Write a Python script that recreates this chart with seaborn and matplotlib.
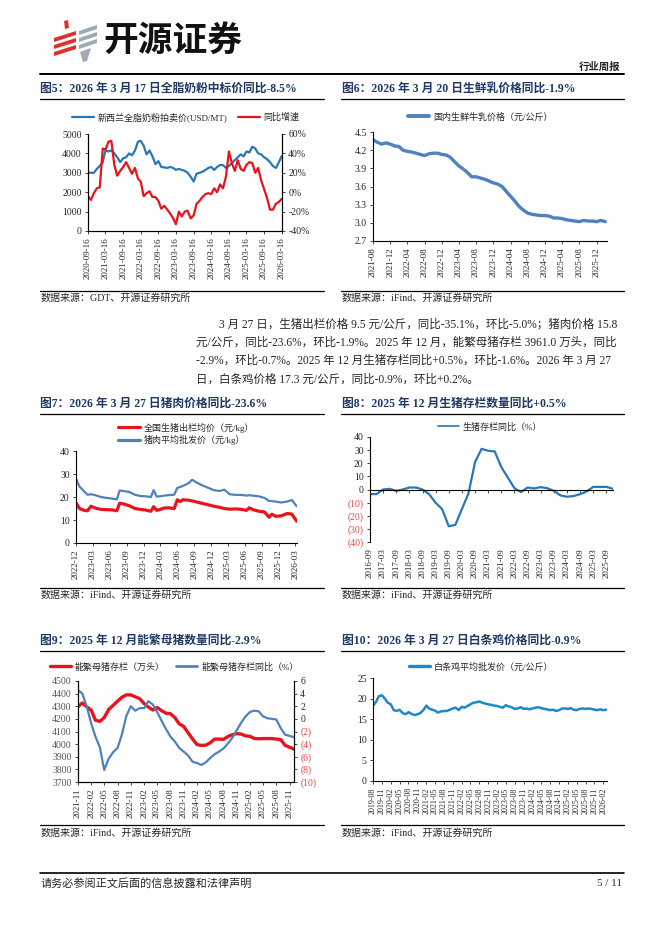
import matplotlib
matplotlib.use('Agg')
import matplotlib.pyplot as plt
from matplotlib.lines import Line2D
from matplotlib.patches import Polygon
import pandas as pd
import seaborn as sns

# ---------------- 数据 ----------------
# 图5 新西兰全脂奶粉拍卖价 / 同比（月度，每月16日）
gdt_start = '2020-09-01'
gdt_price = [3000, 3000, 3000, 3200, 3350, 3550, 4150, 4100, 4150, 4000,
             3800, 3550, 3750, 3800, 4000, 3900, 4150, 4600, 4650, 4400,
             3950, 4150, 3850, 3450, 3600, 3300, 3280, 3250, 3300, 3250,
             3150, 3200, 3150, 3100, 3000, 2800, 2550, 2950, 3000, 3050,
             3150, 3250, 3300, 3150, 3300, 3400, 3400, 3250, 3350, 3500,
             3650, 3800, 3950, 3850, 4100, 4050, 4350, 4250, 4000, 3950,
             3800, 3700, 3550, 3350, 3250, 3550, 3850]
gdt_yoy = [-4, -8, -1, 4, 5, 45, 44, 52, 53, 28,
           17, 22, 26, 31, 25, 19, 25, 14, 11, -4,
           -1, 1, -5, -5, -9, -17, -14, -18, -22, -27,
           -33, -20, -25, -20, -19, -27, -24, -12, -9, -5,
           -2, -1, -2, 4, 0, 8, 4, 16, 42, 30,
           22, 33, 24, 22, 28, 31, 30, 20, 25, 12,
           3, -6, -18, -18, -12, -10, -7]
gdt_ticks = ['2020-09-16', '2021-03-16', '2021-09-16', '2022-03-16', '2022-09-16', '2023-03-16',
             '2023-09-16', '2024-03-16', '2024-09-16', '2025-03-16', '2025-09-16', '2026-03-16']

# 图6 国内生鲜乳价格（元/公斤）
milk_start = '2021-08-01'
milk_price = [4.37, 4.33, 4.30, 4.32, 4.30, 4.27, 4.26, 4.20, 4.18, 4.17,
              4.15, 4.13, 4.11, 4.14, 4.15, 4.15, 4.13, 4.12, 4.08, 4.01,
              3.94, 3.89, 3.83, 3.76, 3.76, 3.74, 3.72, 3.69, 3.66, 3.64,
              3.60, 3.52, 3.44, 3.36, 3.27, 3.21, 3.16, 3.14, 3.13, 3.12,
              3.12, 3.11, 3.08, 3.08, 3.07, 3.05, 3.04, 3.03, 3.02, 3.04,
              3.03, 3.03, 3.02, 3.04, 3.02]
milk_ticks = ['2021-08', '2021-12', '2022-04', '2022-08', '2022-12', '2023-04', '2023-08',
              '2023-12', '2024-04', '2024-08', '2024-12', '2025-04', '2025-08', '2025-12']

# 图7 生猪出栏均价 / 猪肉平均批发价（元/kg）
pig_dates = ['2022-12-01', '2022-12-20', '2023-01-10', '2023-02-01', '2023-02-20', '2023-03-15',
             '2023-04-15', '2023-05-15', '2023-06-15', '2023-07-10', '2023-07-25', '2023-08-15',
             '2023-09-15', '2023-10-15', '2023-11-15', '2023-12-15', '2024-01-10', '2024-01-25',
             '2024-02-10', '2024-03-01', '2024-03-20', '2024-04-15', '2024-05-15', '2024-06-01',
             '2024-06-15', '2024-07-01', '2024-08-01', '2024-08-20', '2024-09-15', '2024-10-15',
             '2024-11-15', '2024-12-15', '2025-01-15', '2025-02-10', '2025-03-10', '2025-04-15',
             '2025-05-15', '2025-06-10', '2025-06-25', '2025-07-15', '2025-08-15', '2025-09-15',
             '2025-10-10', '2025-10-25', '2025-11-15', '2025-12-15', '2026-01-15', '2026-02-10',
             '2026-03-08']
pork_price = [28.0, 24.5, 22.8, 21.0, 21.2, 20.8, 20.0, 19.6, 19.3, 19.0, 22.8, 22.6,
              22.2, 21.0, 20.4, 20.3, 20.0, 23.0, 20.2, 20.3, 20.6, 20.8, 21.0, 24.0,
              24.3, 24.8, 26.0, 27.5, 26.2, 25.0, 24.0, 23.0, 22.6, 23.2, 21.2, 20.9,
              20.9, 20.6, 20.8, 20.6, 20.3, 19.6, 18.3, 18.2, 18.0, 17.6, 18.0, 18.7,
              16.0]
hog_price = [17.5, 15.0, 14.3, 14.0, 16.0, 15.2, 14.6, 14.5, 14.4, 14.0, 17.3, 17.0,
             16.2, 15.0, 14.6, 14.3, 13.8, 15.8, 14.2, 14.6, 15.2, 15.3, 15.0, 18.8,
             18.0, 18.8, 18.6, 18.3, 17.8, 17.2, 16.6, 16.0, 15.5, 15.0, 14.7, 14.8,
             14.6, 14.2, 15.3, 14.5, 13.8, 13.5, 11.2, 12.5, 11.6, 11.8, 12.8, 12.6,
             9.5]
pig_ticks = ['2022-12', '2023-03', '2023-06', '2023-09', '2023-12', '2024-03', '2024-06',
             '2024-09', '2024-12', '2025-03', '2025-06', '2025-09', '2025-12', '2026-03']

# 图8 生猪存栏同比（%，季度）
stock_start = '2016-09-01'
stock_yoy = [-3.5, -3.5, 0.0, 0.5, -1.0, 0.0, 1.5, 1.5, 0.0, -3.5,
             -10.0, -15.0, -28.0, -27.0, -15.0, -3.0, 21.0, 31.0, 29.5, 29.0,
             17.0, 9.0, 1.0, -2.0, 1.5, 0.8, 1.8, 1.0, -1.0, -4.5,
             -5.5, -5.0, -3.5, -1.5, 2.0, 2.0, 2.0, 0.5]
stock_ticks = [f'{y}-{m}' for y in range(2016, 2026) for m in ('03', '09')][1:]

# 图9 能繁母猪存栏（万头）/ 同比（%）
sow_start = '2021-11-01'
sow_stock = [4297, 4326, 4295, 4268, 4190, 4180, 4210, 4275, 4307, 4340,
             4372, 4390, 4390, 4375, 4360, 4320, 4294, 4270, 4290, 4265,
             4245, 4241, 4210, 4160, 4140, 4090, 4040, 3996, 3990, 3992,
             4010, 4040, 4040, 4038, 4060, 4075, 4083, 4080, 4065, 4062,
             4045, 4042, 4044, 4044, 4044, 4040, 4035, 3990, 3975, 3961]
sow_yoy = [4.6, 4.0, 1.9, -0.8, -2.8, -4.5, -8.1, -6.3, -5.3, -4.6,
           -2.4, 0.5, 2.0, 1.3, 1.7, 1.7, 2.8, 2.3, 1.1, -0.3,
           -1.6, -2.8, -3.6, -4.6, -5.2, -5.8, -6.8, -7.0, -7.3, -6.9,
           -6.2, -5.6, -5.2, -4.7, -3.9, -3.0, -1.8, -0.6, 0.4, 1.1,
           1.3, 1.2, 0.4, 0.1, 0.0, -0.1, -1.5, -2.5, -2.7, -2.9]
sow_ticks = list(pd.date_range('2021-11-01', '2025-11-01', freq='3MS').strftime('%Y-%m'))

# 图10 白条鸡平均批发价（元/公斤）
chick_start = '2019-08-01'
chick_price = [18.3, 19.2, 20.6, 20.8, 20.0, 19.0, 18.6, 17.2, 17.0, 17.3,
               16.5, 16.2, 16.7, 16.3, 16.0, 16.2, 16.5, 17.2, 18.3, 17.6,
               17.3, 17.1, 16.6, 16.9, 17.0, 17.0, 17.3, 17.6, 17.8, 17.2,
               18.0, 17.8, 18.2, 18.6, 19.0, 19.1, 19.3, 19.0, 18.8, 18.6,
               18.5, 18.3, 18.2, 18.0, 17.8, 18.4, 18.1, 17.9, 17.5, 17.6,
               17.9, 17.5, 17.6, 17.4, 17.6, 17.8, 17.9, 17.7, 17.5, 17.4,
               17.2, 17.3, 17.0, 17.2, 17.6, 17.6, 17.5, 17.7, 17.3, 17.2,
               17.5, 17.6, 17.5, 17.6, 17.5, 17.3, 17.2, 17.4, 17.2, 17.3]
chick_ticks = list(pd.date_range('2019-08-01', '2026-02-01', freq='3MS').strftime('%Y-%m'))

# ---------------- 样式 ----------------
sns.set_style('ticks')
plt.rcParams['font.family'] = ['Liberation Serif', 'Noto Sans CJK SC']
plt.rcParams['axes.unicode_minus'] = False

NAVY = '#1F3864'
BLUE = '#2878B5'
RED = '#E8131B'
STEEL = '#4F81BD'
NEG = '#E04848'

W, H = 662, 936
fig = plt.figure(figsize=(W / 100, H / 100), dpi=100)


def add_ax(x0, y0, x1, y1):
    return fig.add_axes([x0 / W, 1 - y1 / H, (x1 - x0) / W, (y1 - y0) / H])


def text(x, y, s, **kw):
    kw.setdefault('va', 'center')
    fig.text(x / W, 1 - y / H, s, **kw)


def hline(y, x0, x1, lw=0.9):
    fig.add_artist(Line2D([x0 / W, x1 / W], [1 - y / H] * 2, color='black', lw=lw))


def style_ax(ax, right=False):
    ax.spines['top'].set_visible(False)
    ax.spines['right'].set_visible(right)
    for s in ax.spines.values():
        s.set_linewidth(0.8)
        s.set_color('black')
    ax.tick_params(direction='out', length=2.5, width=0.6, labelsize=7, pad=2)
    ax.set_xlabel('')
    ax.set_ylabel('')


def date_ticks(ax, ticks, fs=6.5):
    ax.set_xticks(pd.to_datetime(ticks))
    ax.set_xticklabels(ticks, rotation=90, fontsize=fs)


def legend(ax, handles, cx, cy, ncol=1, fs=6.5, hl=2.4):
    ax.legend(handles=handles, loc='center', bbox_to_anchor=(cx / W, 1 - cy / H),
              bbox_transform=fig.transFigure, ncol=ncol, frameon=False, fontsize=fs,
              handlelength=hl, columnspacing=1.2, handletextpad=0.4,
              borderaxespad=0, borderpad=0, labelspacing=0.3)


def red_negatives(ax):
    for t in ax.get_yticklabels():
        if t.get_text().startswith('('):
            t.set_color(NEG)


def paren(v):
    return f'({abs(v)})' if v < 0 else f'{v}'


# ---------------- 页眉 ----------------
red_bars = [[(64, 21), (68, 20), (69, 28), (65, 29)],
            [(54, 38), (76, 31), (76, 35), (54, 42)],
            [(54, 45), (76, 38), (76, 42), (54, 49)],
            [(54, 52), (76, 45), (76, 49), (54, 56)]]
gray_bars = [[(79, 31), (97, 25), (97, 29), (79, 35)],
             [(79, 38), (97, 32), (97, 36), (79, 42)],
             [(79, 45), (97, 39), (97, 43), (79, 49)],
             [(80, 52), (91, 48), (87, 61), (83, 62)]]
for pts, c in [(p, '#D9342B') for p in red_bars] + [(p, '#9DAAB5') for p in gray_bars]:
    fig.add_artist(Polygon([(x / W, 1 - y / H) for x, y in pts], closed=True,
                           transform=fig.transFigure, color=c, lw=0))
text(103, 40, '开源证券', fontsize=25, fontweight='bold', family='Noto Sans CJK SC', color='#111111')
text(620, 67, '行业周报', fontsize=7.5, fontweight='bold', ha='right')
hline(74, 40, 624, lw=1.4)

# 标题
text(40, 89, '图5：2026 年 3 月 17 日全脂奶粉中标价同比-8.5%', fontsize=8.5, fontweight='bold', color=NAVY)
text(342, 89, '图6：2026 年 3 月 20 日生鲜乳价格同比-1.9%', fontsize=8.5, fontweight='bold', color=NAVY)
text(40, 404, '图7：2026 年 3 月 27 日猪肉价格同比-23.6%', fontsize=8.5, fontweight='bold', color=NAVY)
text(342, 404, '图8：2025 年 12 月生猪存栏数量同比+0.5%', fontsize=8.5, fontweight='bold', color=NAVY)
text(40, 641, '图9：2025 年 12 月能繁母猪数量同比-2.9%', fontsize=8.5, fontweight='bold', color=NAVY)
text(342, 641, '图10：2026 年 3 月 27 日白条鸡价格同比-0.9%', fontsize=8.5, fontweight='bold', color=NAVY)
for y in (99, 414, 651, 291, 588, 825):
    hline(y, 40, 324)
    hline(y, 341, 624)
for y, src in [(298, ('GDT', 'iFind')), (595, ('iFind', 'iFind')), (833, ('iFind', 'iFind'))]:
    text(41, y, f'数据来源：{src[0]}、开源证券研究所', fontsize=7.2)
    text(342, y, f'数据来源：{src[1]}、开源证券研究所', fontsize=7.2)

# 正文
para = ['3 月 27 日，生猪出栏价格 9.5 元/公斤，同比-35.1%，环比-5.0%；猪肉价格 15.8',
        '元/公斤，同比-23.6%，环比-1.9%。2025 年 12 月，能繁母猪存栏 3961.0 万头，同比',
        '-2.9%，环比-0.7%。2025 年 12 月生猪存栏同比+0.5%，环比-1.6%。2026 年 3 月 27',
        '日，白条鸡价格 17.3 元/公斤，同比-0.9%，环比+0.2%。']
for i, line in enumerate(para):
    text(219 if i == 0 else 196, 324 + i * 18.5, line, fontsize=8.3)

# 页脚
hline(873, 40, 624, lw=1.2)
text(41, 883, '请务必参阅正文后面的信息披露和法律声明', fontsize=8)
text(622, 883, '5 / 11', fontsize=8, ha='right')

# ---------------- 图5 ----------------
d5 = pd.date_range(gdt_start, periods=len(gdt_price), freq='MS') + pd.Timedelta(days=15)
ax5 = add_ax(88, 134, 282, 231)
sns.lineplot(x=d5, y=gdt_price, ax=ax5, color=BLUE, lw=1.6)
ax5r = ax5.twinx()
sns.lineplot(x=d5, y=gdt_yoy, ax=ax5r, color=RED, lw=1.6)
style_ax(ax5, right=True)
style_ax(ax5r, right=True)
ax5.set_ylim(0, 5000)
ax5.set_yticks(range(0, 5001, 1000))
ax5r.set_ylim(-40, 60)
ax5r.set_yticks(range(-40, 61, 20))
ax5r.set_yticklabels([f'{v}%' for v in range(-40, 61, 20)])
ax5.set_xlim(pd.Timestamp('2020-09-16'), pd.Timestamp('2026-03-20'))
date_ticks(ax5, gdt_ticks)
legend(ax5r, [Line2D([], [], color=BLUE, lw=1.6), Line2D([], [], color=RED, lw=1.6)],
       186, 117, ncol=2)
ax5r.get_legend().get_texts()[0].set_text('新西兰全脂奶粉拍卖价(USD/MT)')
ax5r.get_legend().get_texts()[1].set_text('同比增速')

# ---------------- 图6 ----------------
d6 = pd.date_range(milk_start, periods=len(milk_price), freq='MS')
ax6 = add_ax(373, 132, 607, 241)
sns.lineplot(x=d6, y=milk_price, ax=ax6, color=STEEL, lw=2.4)
style_ax(ax6)
ax6.set_ylim(2.7, 4.5)
ax6.set_yticks([2.7, 3.0, 3.3, 3.6, 3.9, 4.2, 4.5])
ax6.set_yticklabels(['2.7', '3.0', '3.3', '3.6', '3.9', '4.2', '4.5'])
ax6.set_xlim(pd.Timestamp('2021-08-01'), pd.Timestamp('2026-02-13'))
date_ticks(ax6, milk_ticks)
legend(ax6, [Line2D([], [], color=STEEL, lw=2.8)], 480, 117)
ax6.get_legend().get_texts()[0].set_text('国内生鲜牛乳价格（元/公斤）')

# ---------------- 图7 ----------------
d7 = pd.to_datetime(pig_dates)
ax7 = add_ax(76, 451, 297, 543)
sns.lineplot(x=d7, y=pork_price, ax=ax7, color=STEEL, lw=1.6)
sns.lineplot(x=d7, y=hog_price, ax=ax7, color=RED, lw=2.3)
style_ax(ax7)
ax7.set_ylim(0, 40)
ax7.set_yticks(range(0, 41, 10))
ax7.set_xlim(pd.Timestamp('2022-12-01'), pd.Timestamp('2026-03-10'))
date_ticks(ax7, pig_ticks)
legend(ax7, [Line2D([], [], color=RED, lw=2.3), Line2D([], [], color=STEEL, lw=2.3)], 186, 434)
ax7.get_legend().get_texts()[0].set_text('全国生猪出栏均价（元/kg）')
ax7.get_legend().get_texts()[1].set_text('猪肉平均批发价（元/kg）')

# ---------------- 图8 ----------------
d8 = pd.date_range(stock_start, periods=len(stock_yoy), freq='3MS')
ax8 = add_ax(370, 437, 613, 542)
sns.lineplot(x=d8, y=stock_yoy, ax=ax8, color=BLUE, lw=1.6)
style_ax(ax8)
ax8.spines['bottom'].set_position(('data', 0))
ax8.set_ylim(-40, 40)
ax8.set_yticks(range(-40, 41, 10))
ax8.set_yticklabels([paren(v) for v in range(-40, 41, 10)])
red_negatives(ax8)
ax8.set_xlim(pd.Timestamp('2016-09-01'), pd.Timestamp('2025-12-01'))
date_ticks(ax8, stock_ticks)
ax8.tick_params(axis='x', pad=40)
legend(ax8, [Line2D([], [], color=BLUE, lw=1.2)], 490, 427)
ax8.get_legend().get_texts()[0].set_text('生猪存栏同比（%）')

# ---------------- 图9 ----------------
d9 = pd.date_range(sow_start, periods=len(sow_stock), freq='MS')
ax9 = add_ax(78, 681, 294, 782)
sns.lineplot(x=d9, y=sow_stock, ax=ax9, color=RED, lw=2.4)
ax9r = ax9.twinx()
sns.lineplot(x=d9, y=sow_yoy, ax=ax9r, color=STEEL, lw=1.6)
style_ax(ax9, right=True)
style_ax(ax9r, right=True)
ax9.set_ylim(3700, 4500)
ax9.set_yticks(range(3700, 4501, 100))
ax9.tick_params(axis='y', labelcolor='#555555')
ax9r.set_ylim(-10, 6)
ax9r.set_yticks(range(-10, 7, 2))
ax9r.set_yticklabels([paren(v) for v in range(-10, 7, 2)])
red_negatives(ax9r)
ax9.set_xlim(pd.Timestamp('2021-11-01'), pd.Timestamp('2025-12-01'))
date_ticks(ax9, sow_ticks)
legend(ax9r, [Line2D([], [], color=RED, lw=2.4), Line2D([], [], color=STEEL, lw=2.0)],
       174, 667, ncol=2)
ax9r.get_legend().get_texts()[0].set_text('能繁母猪存栏（万头）')
ax9r.get_legend().get_texts()[1].set_text('能繁母猪存栏同比（%）')

# ---------------- 图10 ----------------
d10 = pd.date_range(chick_start, periods=len(chick_price), freq='MS')
ax10 = add_ax(373, 678, 607, 781)
sns.lineplot(x=d10, y=chick_price, ax=ax10, color='#1E88C8', lw=1.8)
style_ax(ax10)
ax10.set_ylim(0, 25)
ax10.set_yticks(range(0, 26, 5))
ax10.set_xlim(pd.Timestamp('2019-08-01'), pd.Timestamp('2026-03-10'))
date_ticks(ax10, chick_ticks, fs=5.8)
legend(ax10, [Line2D([], [], color='#1E88C8', lw=2.4)], 481, 667)
ax10.get_legend().get_texts()[0].set_text('白条鸡平均批发价（元/公斤）')

fig.savefig('out.png', dpi=100)
